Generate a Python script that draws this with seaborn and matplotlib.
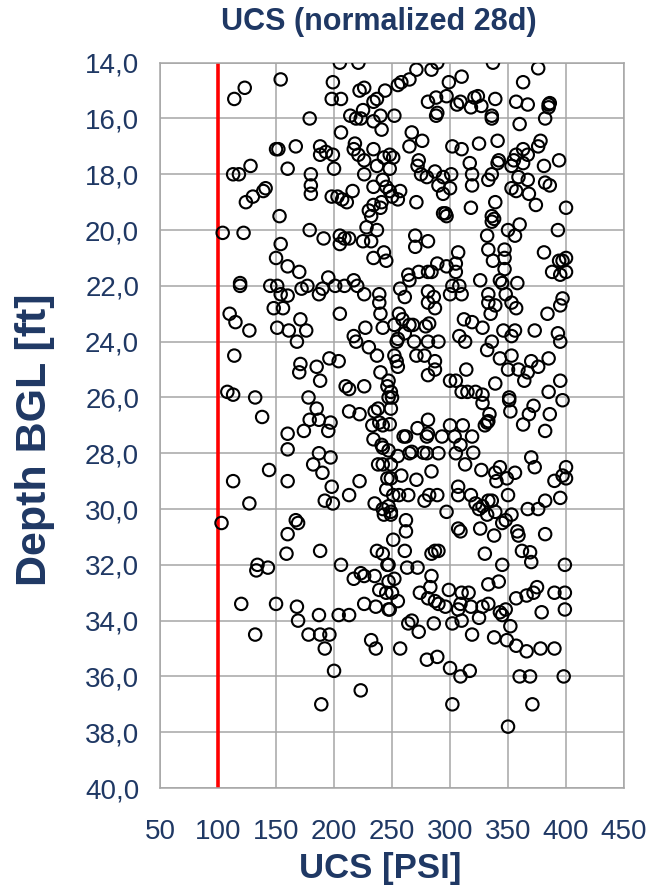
import matplotlib
matplotlib.use('Agg')
import matplotlib.pyplot as plt
import seaborn as sns
import pandas as pd
from matplotlib.ticker import FuncFormatter

# UCS readings (PSI) and sample depth (ft), grouped by depth band
ucs_14_18 = [205, 221, 154, 123, 114, 199, 198, 206, 222, 226, 244, 234, 237, 225, 214, 219, 223, 234, 240, 241,
             179, 206, 150, 152, 167, 188, 188, 193, 199, 200, 218, 217, 221, 226, 234, 237, 243, 128, 113, 118,
             160, 180, 226,
             337, 289, 284, 271, 376, 310, 299, 265, 258, 255, 363, 281, 288, 297, 306, 309, 318, 321, 324, 327,
             339, 357, 367, 385, 386, 385, 382, 360, 336, 336, 288, 289, 252, 267, 276, 265, 302, 310, 325, 341,
             378, 376, 363, 357, 367, 363, 394, 381, 317, 342, 341, 353, 355, 273, 272, 248, 251, 248, 275, 287,
             301, 319, 336, 359, 367]
depth_14_18 = [14.0, 14.0, 14.6, 14.9, 15.3, 14.7, 15.3, 15.3, 15.0, 14.9, 15.0, 15.4, 15.3, 15.7, 15.9, 16.0, 16.0, 16.1, 15.9, 16.4,
               16.0, 16.5, 17.1, 17.1, 17.0, 17.0, 17.3, 17.2, 17.3, 17.8, 16.9, 17.1, 17.3, 17.5, 17.1, 17.7, 17.4, 17.7, 18.0, 18.0,
               17.8, 18.0, 18.0,
               14.0, 14.0, 14.25, 14.25, 14.2, 14.5, 14.7, 14.6, 14.7, 14.8, 14.7, 15.4, 15.25, 15.2, 15.5, 15.4, 15.6, 15.25, 15.2, 15.55,
               15.3, 15.4, 15.5, 15.5, 15.45, 15.6, 16.0, 16.2, 15.9, 16.0, 15.9, 15.8, 15.9, 16.5, 16.8, 17.0, 17.0, 17.1, 16.9, 16.8,
               16.8, 17.0, 17.1, 17.3, 17.3, 17.6, 17.5, 17.7, 17.6, 17.5, 17.6, 17.7, 17.5, 17.5, 17.7, 17.3, 17.4, 17.8, 18.0, 17.9,
               18.0, 18.0, 18.0, 18.1, 18.2]

ucs_18_22 = [180, 180, 141, 139, 130, 124, 153, 198, 203, 207, 211, 216, 179, 191, 205, 209, 213, 205, 154, 104,
             122, 150, 160, 170, 195, 217, 220, 226, 119, 119, 145, 151, 154, 160, 172, 177, 190, 187, 201, 209,
             239, 234, 242, 245, 230, 232, 234, 240, 241, 228, 237, 225, 232, 234, 243, 245,
             248, 257, 255, 250, 280, 294, 290, 300, 294, 271, 294, 297, 296, 318, 319, 333, 339, 336, 338, 336,
             353, 357, 368, 374, 382, 386, 400, 360, 350, 356, 393, 332, 270, 270, 281, 333, 347, 337, 347, 347,
             307, 381, 394, 397, 400, 388, 395, 400, 264, 265, 273, 281, 284, 289, 297, 305, 305, 302, 308, 300,
             310, 326, 343, 345, 358, 333, 348, 257, 281, 286, 261, 397]
depth_18_22 = [18.4, 18.7, 18.5, 18.6, 18.8, 19.0, 19.5, 18.8, 18.8, 18.9, 19.0, 18.6, 20.0, 20.3, 20.2, 20.3, 20.3, 20.5, 20.5, 20.1,
               20.1, 21.0, 21.3, 21.5, 21.7, 21.8, 22.0, 22.3, 21.9, 22.0, 22.0, 22.0, 22.3, 22.35, 22.1, 22.0, 22.1, 22.3, 22.0, 22.0,
               22.3, 18.45, 18.2, 18.45, 19.3, 19.5, 19.1, 19.2, 19.0, 19.9, 20.0, 20.4, 20.4, 21.0, 20.8, 21.1,
               18.6, 18.6, 18.9, 18.8, 18.1, 18.1, 18.4, 18.5, 18.7, 19.0, 19.4, 19.5, 19.4, 19.2, 18.4, 18.2, 19.0, 19.5, 19.6, 19.7,
               18.5, 18.6, 18.7, 19.1, 18.3, 18.4, 19.2, 19.8, 20.0, 20.2, 20.0, 20.2, 20.2, 20.6, 20.4, 20.7, 20.7, 21.1, 21.0, 21.4,
               20.8, 20.8, 21.1, 21.1, 21.0, 21.5, 21.6, 21.5, 21.6, 21.8, 21.5, 21.5, 21.5, 21.2, 21.3, 21.2, 21.5, 22.0, 22.0, 22.3,
               22.3, 21.8, 21.8, 21.9, 21.9, 22.3, 22.3, 22.1, 22.2, 22.4, 22.4, 22.45]

ucs_22_27 = [148, 156, 110, 115, 127, 171, 151, 161, 176, 168, 205, 114, 171, 170, 185, 188, 196, 204, 210, 213,
             226, 108, 113, 132, 178, 185, 138, 213, 222, 217, 219, 227, 230, 237, 239, 240, 242, 240, 238, 235,
             246, 247,
             281, 287, 333, 339, 353, 357, 335, 328, 395, 384, 256, 259, 252, 265, 268, 279, 282, 261, 254, 255,
             269, 281, 290, 312, 319, 308, 313, 332, 336, 346, 356, 353, 373, 393, 395, 385, 370, 376, 367, 364,
             359, 350, 343, 353, 252, 254, 255, 271, 278, 287, 287, 281, 314, 339, 300, 305, 310, 315, 322, 328,
             328, 247, 249, 250, 249, 351, 351, 352, 368, 372, 385, 386, 395, 397, 334]
depth_22_27 = [22.8, 22.8, 23.0, 23.3, 23.6, 23.2, 23.5, 23.6, 23.6, 24.0, 23.0, 24.5, 24.8, 25.1, 24.9, 25.4, 24.6, 24.7, 25.6, 25.7,
               25.6, 25.8, 25.9, 26.0, 26.0, 26.4, 26.7, 26.5, 26.6, 23.8, 24.0, 23.5, 24.2, 24.5, 22.6, 23.0, 23.5, 25.1, 26.4, 26.5,
               25.6, 26.0,
               22.6, 22.8, 22.6, 22.7, 22.6, 22.8, 23.0, 23.5, 22.7, 23.0, 23.0, 23.2, 23.4, 23.4, 23.4, 23.45, 23.35, 23.7, 24.0, 23.9,
               24.0, 24.0, 24.0, 23.2, 23.3, 23.8, 24.0, 24.3, 24.0, 23.6, 23.6, 23.8, 23.6, 23.7, 24.0, 24.6, 24.7, 24.9, 25.1, 25.4,
               25.0, 25.0, 24.6, 24.5, 24.5, 24.7, 24.9, 24.5, 24.5, 24.7, 25.0, 25.2, 25.0, 25.5, 25.4, 25.4, 25.8, 25.8, 25.8, 25.9,
               26.2, 25.4, 25.8, 26.0, 26.4, 26.0, 26.1, 26.5, 26.6, 26.3, 25.8, 26.6, 25.4, 26.1, 26.6]

ucs_27_31 = [160, 160, 174, 179, 187, 197, 195, 187, 197, 182, 190, 198, 192, 199, 144, 113, 160, 127, 103, 167,
             169, 160, 213, 222, 233, 239, 242, 234, 241, 242, 238, 242, 246, 245, 235, 242, 243,
             248, 247, 249, 249, 251, 249, 249, 247, 260, 262, 272, 281, 280, 281, 293, 300, 304, 311, 319, 309,
             255, 265, 267, 277, 280, 290, 305, 320, 313, 330, 332, 333, 363, 382, 258, 271, 284, 307, 307, 318,
             327, 339, 343, 349, 356, 340, 370, 373, 350, 390, 397, 400, 400, 395, 382, 376, 367, 256, 264, 278,
             282, 289, 297, 322, 328, 333, 336, 339, 332, 345, 348, 353, 325, 262, 262, 307, 309, 326, 338, 358,
             359, 382]
depth_27_31 = [27.3, 27.86, 27.2, 26.8, 26.8, 26.9, 27.2, 28.0, 28.15, 28.4, 28.7, 29.2, 29.7, 29.8, 28.6, 29.0, 29.0, 29.8, 30.5, 30.4,
               30.5, 30.9, 29.5, 29.0, 27.0, 26.9, 27.0, 27.5, 27.7, 27.8, 28.4, 28.4, 28.9, 29.3, 29.8, 30.0, 30.2,
               26.96, 27.9, 28.4, 28.9, 29.5, 30.1, 30.2, 29.9, 27.4, 27.4, 27.1, 26.8, 27.4, 27.3, 27.4, 27.0, 27.4, 27.0, 27.4, 27.7,
               28.1, 28.0, 27.95, 27.98, 28.0, 28.0, 28.0, 27.98, 28.4, 27.0, 26.9, 26.85, 26.97, 27.2, 28.8, 28.95, 28.65, 29.2, 29.5, 29.5,
               28.6, 28.7, 28.5, 28.9, 28.7, 29.0, 28.15, 28.5, 29.5, 28.99, 28.8, 28.9, 28.5, 29.6, 29.7, 30.0, 30.0, 29.5, 29.5, 29.7,
               29.5, 29.5, 30.1, 29.8, 29.9, 29.7, 29.7, 30.1, 30.2, 30.5, 30.4, 30.2, 30.0, 30.4, 30.8, 30.7, 30.8, 30.7, 30.95, 30.8,
               30.95, 30.9]

ucs_31_38 = [159, 188, 134, 133, 143, 120, 150, 168, 169, 187, 178, 188, 196, 192, 132, 206, 204, 213, 217, 223,
             226, 235, 239, 245, 246, 226, 236, 247, 237, 242, 232, 236,
             251, 261, 362, 369, 370, 330, 345, 284, 287, 290, 247, 263, 272, 284, 247, 252, 250, 274, 283, 299,
             310, 316, 333, 342, 255, 248, 281, 287, 290, 296, 309, 307, 318, 328, 333, 343, 345, 348, 357, 366,
             372, 375, 390, 399, 399, 379, 399, 264, 267, 273, 286, 302, 310, 325, 352, 319, 338, 349, 357, 366,
             378, 390, 257, 280, 289,
             200, 189, 223, 300, 309, 317, 302, 350, 360, 369, 371, 398]
depth_31_38 = [31.6, 31.5, 32.0, 32.2, 32.1, 33.4, 33.4, 33.5, 34.0, 33.8, 34.5, 34.5, 34.5, 35.0, 34.5, 32.0, 33.8, 33.8, 32.5, 32.3,
               32.4, 32.4, 32.9, 33.0, 32.0, 33.4, 33.5, 33.6, 31.5, 31.6, 34.7, 35.0,
               31.1, 31.5, 31.5, 31.55, 31.9, 31.6, 32.0, 31.6, 31.5, 31.5, 32.0, 32.1, 32.1, 32.4, 32.6, 32.5, 33.0, 33.0, 32.8, 32.9,
               33.0, 33.0, 32.7, 32.6, 33.3, 33.6, 33.2, 33.3, 33.4, 33.5, 33.4, 33.6, 33.5, 33.5, 33.4, 33.7, 33.8, 33.6, 33.2, 33.1,
               33.0, 32.8, 33.0, 33.0, 33.6, 33.7, 32.0, 34.1, 34.0, 34.4, 34.1, 34.1, 34.0, 33.9, 34.2, 34.5, 34.6, 34.7, 34.9, 35.1,
               35.0, 35.0, 35.0, 35.4, 35.3,
               35.8, 37.0, 36.5, 35.7, 36.0, 35.8, 37.0, 37.8, 36.0, 36.0, 37.0, 36.0]

limit_psi = 100

x_ticks = [50, 100, 150, 200, 250, 300, 350, 400, 450]
y_ticks = [14, 16, 18, 20, 22, 24, 26, 28, 30, 32, 34, 36, 38, 40]

df = pd.DataFrame({
    'ucs': ucs_14_18 + ucs_18_22 + ucs_22_27 + ucs_27_31 + ucs_31_38,
    'depth': depth_14_18 + depth_18_22 + depth_22_27 + depth_27_31 + depth_31_38,
})

sns.set_style('white')
plt.rcParams['font.family'] = ['Liberation Sans', 'DejaVu Sans']

navy = '#1F3864'
grid_c = '#A6A6A6'

fig = plt.figure(figsize=(6.48, 8.88), dpi=100)
ax = fig.add_axes([0.247, 0.1126, 0.716, 0.8168])

ax.axvline(limit_psi, color='red', lw=2.6, zorder=2)
sns.scatterplot(data=df, x='ucs', y='depth', ax=ax, marker='o', s=80,
                facecolor='none', edgecolor='black', linewidth=1.5, zorder=3)

ax.set_xlim(50, 450)
ax.set_ylim(40, 14)
ax.set_xticks(x_ticks)
ax.set_yticks(y_ticks)
ax.yaxis.set_major_formatter(FuncFormatter(lambda v, p: f'{v:.1f}'.replace('.', ',')))

ax.grid(True, color=grid_c, lw=1.1, zorder=0)
ax.set_axisbelow(True)
for sp in ax.spines.values():
    sp.set_color(grid_c)
    sp.set_linewidth(1.1)
ax.tick_params(length=7, width=1.1, color=grid_c, labelsize=20, labelcolor=navy)
ax.tick_params(axis='x', pad=15)
ax.tick_params(axis='y', pad=8)

ax.set_xlabel('')
ax.set_ylabel('')
fig.text(379 / 648, 1 - 22 / 888, 'UCS (normalized 28d)', ha='center', va='center',
         fontsize=22, fontweight='bold', color=navy)
fig.text(380 / 648, 1 - 868 / 888, 'UCS [PSI]', ha='center', va='center',
         fontsize=25, fontweight='bold', color=navy)
fig.text(35 / 648, 1 - 440 / 888, 'Depth BGL [ft]', ha='center', va='center', rotation=90,
         fontsize=31, fontweight='bold', color=navy)

fig.savefig('out.png', dpi=100)
